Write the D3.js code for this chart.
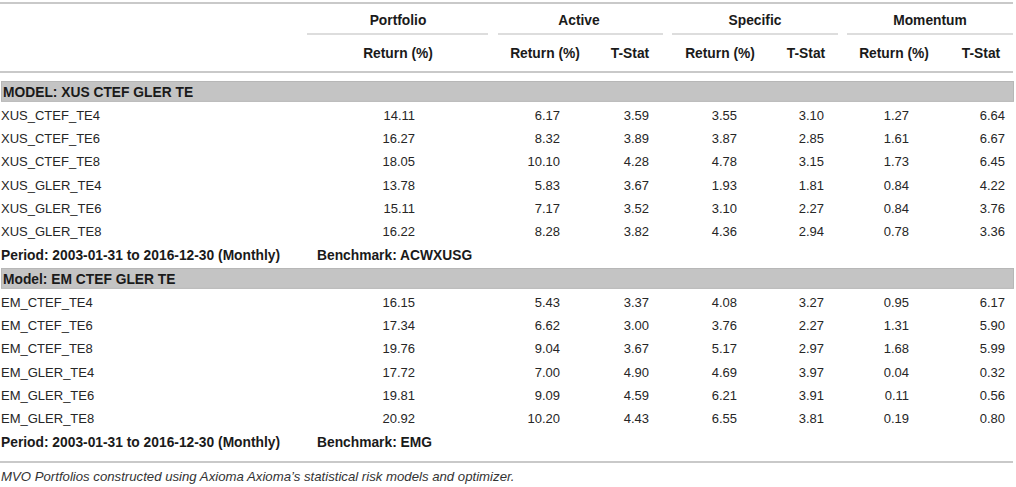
<!DOCTYPE html>
<html>
<head>
<meta charset="utf-8">
<script src="https://cdn.jsdelivr.net/npm/d3@7"></script>
<style>
  body { margin: 0; background: #fff; }
  svg text { font-family: "Liberation Sans", Arial, sans-serif; font-size: 13px; fill: #262626; }
  .bold { font-weight: bold; font-size: 13.8px; fill: #1a1a1a; }
</style>
</head>
<body>
<div id="table"></div>
<script>
// column headers
const groupHeads = ["Portfolio", "Active", "Specific", "Momentum"]
const subHeads = ["Return (%)", "Return (%)", "T-Stat", "Return (%)", "T-Stat", "Return (%)", "T-Stat"]
const valueCols = ["portRet", "actRet", "actT", "specRet", "specT", "momRet", "momT"]

// model XUS
const xusTitle = "MODEL: XUS CTEF GLER TE"
const xusNames = ["XUS_CTEF_TE4", "XUS_CTEF_TE6", "XUS_CTEF_TE8", "XUS_GLER_TE4", "XUS_GLER_TE6", "XUS_GLER_TE8"]
const xusPortRet = [14.11, 16.27, 18.05, 13.78, 15.11, 16.22]
const xusActRet = [6.17, 8.32, 10.10, 5.83, 7.17, 8.28]
const xusActT = [3.59, 3.89, 4.28, 3.67, 3.52, 3.82]
const xusSpecRet = [3.55, 3.87, 4.78, 1.93, 3.10, 4.36]
const xusSpecT = [3.10, 2.85, 3.15, 1.81, 2.27, 2.94]
const xusMomRet = [1.27, 1.61, 1.73, 0.84, 0.84, 0.78]
const xusMomT = [6.64, 6.67, 6.45, 4.22, 3.76, 3.36]
const xusBenchmark = "ACWXUSG"

// model EM
const emTitle = "Model: EM CTEF GLER TE"
const emNames = ["EM_CTEF_TE4", "EM_CTEF_TE6", "EM_CTEF_TE8", "EM_GLER_TE4", "EM_GLER_TE6", "EM_GLER_TE8"]
const emPortRet = [16.15, 17.34, 19.76, 17.72, 19.81, 20.92]
const emActRet = [5.43, 6.62, 9.04, 7.00, 9.09, 10.20]
const emActT = [3.37, 3.00, 3.67, 4.90, 4.59, 4.43]
const emSpecRet = [4.08, 3.76, 5.17, 4.69, 6.21, 6.55]
const emSpecT = [3.27, 2.27, 2.97, 3.97, 3.91, 3.81]
const emMomRet = [0.95, 1.31, 1.68, 0.04, 0.11, 0.19]
const emMomT = [6.17, 5.90, 5.99, 0.32, 0.56, 0.80]
const emBenchmark = "EMG"

const period = "Period: 2003-01-31 to 2016-12-30 (Monthly)"
const footnote = "MVO Portfolios constructed using Axioma Axioma\u2019s statistical risk models and optimizer."

function buildRows(title, names, cols, bench) {
  let rows = [{kind: "title", text: title}]
  names.forEach((n, i) => {
    const r = {kind: "data", name: n}
    valueCols.forEach((c, j) => { r[c] = cols[j][i] })
    rows.push(r)
  })
  rows.push({kind: "period", text: period, bench: "Benchmark: " + bench})
  return rows
}

const rows = buildRows(xusTitle, xusNames,
    [xusPortRet, xusActRet, xusActT, xusSpecRet, xusSpecT, xusMomRet, xusMomT], xusBenchmark)
  .concat(buildRows(emTitle, emNames,
    [emPortRet, emActRet, emActT, emSpecRet, emSpecT, emMomRet, emMomT], emBenchmark))

const width = 1016, height = 487

const svg = d3.select("#table")
  .append("svg")
    .attr("width", width)
    .attr("height", height)

// row positions
const y = d3.scaleBand()
  .domain(d3.range(rows.length))
  .range([80, 80 + rows.length * 23.375])
  .padding(0)

// value anchors (right aligned) and header centers
const xVal = d3.scaleOrdinal().domain(valueCols).range([415, 560, 649, 737, 824, 909, 1005])
const xSub = d3.scaleOrdinal().domain(valueCols).range([398, 545, 630, 720, 806, 894, 981])
const groupSpan = d3.scaleOrdinal().domain(groupHeads)
  .range([[307, 488], [498, 663], [672, 838], [847, 1013]])
const groupCenter = d3.scaleOrdinal().domain(groupHeads).range([398, 579, 755, 930])

// rules
const rule = (yy, x0, x1, w, c) => svg.append("line")
  .attr("x1", x0).attr("x2", x1).attr("y1", yy).attr("y2", yy)
  .attr("stroke", c).attr("stroke-width", w)

rule(3, 0, 1013, 2, "#c9c9c9")
rule(72, 0, 1013, 2, "#c9c9c9")
rule(462, 0, 1013, 2, "#c9c9c9")

// group headers
groupHeads.forEach(g => {
  const s = groupSpan(g)
  rule(34, s[0], s[1], 1.5, "#d2d2d2")
  svg.append("text")
    .attr("class", "bold")
    .attr("x", groupCenter(g))
    .attr("y", 20).attr("dy", "0.35em")
    .attr("text-anchor", "middle")
    .text(g)
})

svg.selectAll(".sub")
  .data(valueCols)
  .enter()
  .append("text")
    .attr("class", "sub bold")
    .attr("x", d => xSub(d))
    .attr("y", 53).attr("dy", "0.35em")
    .attr("text-anchor", "middle")
    .text((d, i) => subHeads[i])

// body rows
const g = svg.selectAll(".row")
  .data(rows)
  .enter()
  .append("g")
    .attr("class", "row")
    .attr("transform", (d, i) => `translate(0, ${y(i)})`)

const bh = y.bandwidth()

g.filter(d => d.kind === "title")
  .append("rect")
    .attr("x", 1.5).attr("y", 1.5)
    .attr("width", 1012).attr("height", bh - 3.5)
    .attr("fill", "#c4c4c4")
    .attr("stroke", "#b7b7b7")
    .attr("stroke-width", 1)

g.filter(d => d.kind === "title")
  .append("text")
    .attr("class", "bold")
    .attr("x", 3).attr("y", bh / 2).attr("dy", "0.35em")
    .text(d => d.text)

g.filter(d => d.kind === "period")
  .append("text")
    .attr("class", "bold")
    .attr("x", 1).attr("y", bh / 2).attr("dy", "0.35em")
    .text(d => d.text)

g.filter(d => d.kind === "period")
  .append("text")
    .attr("class", "bold")
    .attr("x", 317).attr("y", bh / 2).attr("dy", "0.35em")
    .text(d => d.bench)

const data = g.filter(d => d.kind === "data")
data.append("text")
  .attr("x", 1).attr("y", bh / 2).attr("dy", "0.35em")
  .text(d => d.name)

valueCols.forEach(c => {
  data.append("text")
    .attr("x", xVal(c)).attr("y", bh / 2).attr("dy", "0.35em")
    .attr("text-anchor", "end")
    .text(d => d[c].toFixed(2))
})

svg.append("text")
  .attr("x", 1).attr("y", 476).attr("dy", "0.35em")
  .style("font-style", "italic")
  .style("font-size", "13.2px")
  .style("fill", "#333")
  .text(footnote)
</script>
</body>
</html>
